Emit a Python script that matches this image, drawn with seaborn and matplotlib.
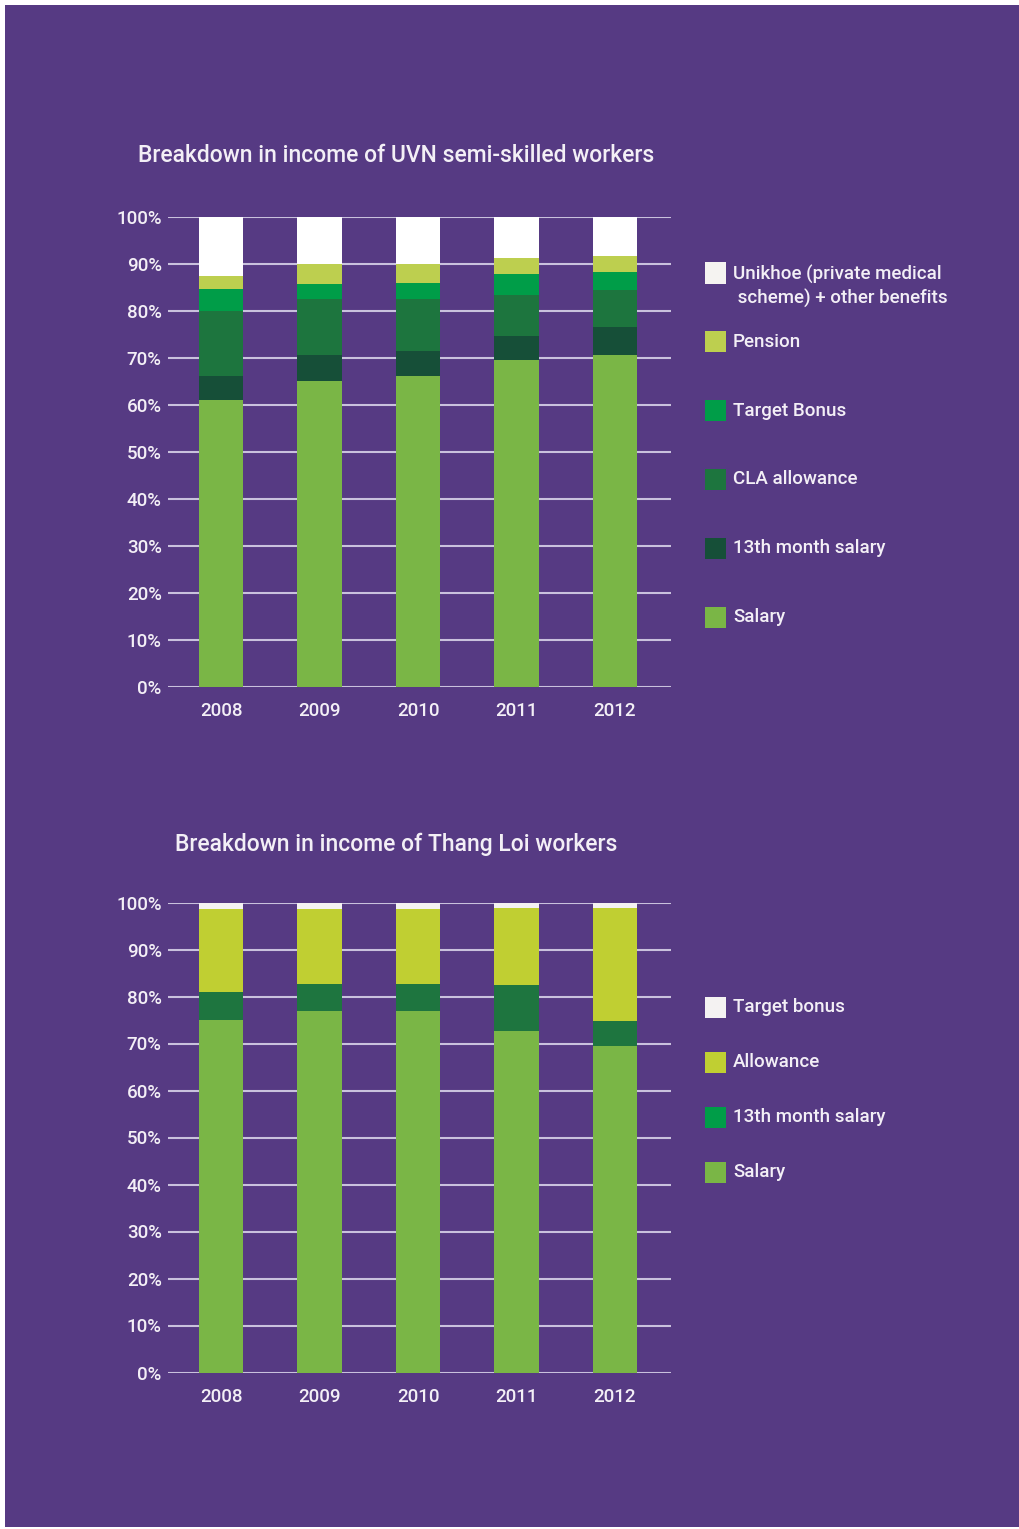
"""
Income breakdown of UVN semi-skilled workers and Thang Loi workers, 2008-2012
Stacked 100% bars drawn with seaborn on a purple page
"""

import numpy as np
import pandas as pd
import matplotlib.pyplot as plt
from matplotlib.patches import Rectangle
import seaborn as sns

sns.set_style("white")
plt.rcParams['font.family'] = ['Roboto', 'DejaVu Sans']
plt.rcParams['font.weight'] = 'medium'

BG = '#563A83'
TXT = '#F3EFF6'
GRID = '#C9C1DD'

years = ['2008', '2009', '2010', '2011', '2012']

# UVN semi-skilled workers (% of income)
uvn_labels = ['Salary', '13th month salary', 'CLA allowance', 'Target Bonus',
              'Pension', 'Unikhoe (private medical\n scheme) + other benefits']
uvn_salary = [61.0, 65.2, 66.1, 69.5, 70.6]
uvn_13th = [5.1, 5.4, 5.3, 5.1, 5.9]
uvn_cla = [13.8, 11.9, 11.1, 8.9, 7.9]
uvn_target = [4.7, 3.2, 3.4, 4.3, 3.8]
uvn_pension = [2.8, 4.2, 4.0, 3.4, 3.6]
uvn_unikhoe = [12.6, 10.1, 10.1, 8.8, 8.2]
uvn_colors = ['#7AB646', '#164F38', '#1D753E', '#009D48', '#BDCF4F', '#FFFFFF']
uvn_legend_colors = ['#7AB646', '#164F38', '#1D753E', '#009D48', '#BDCF4F', '#F5F3F1']

# Thang Loi workers (% of income)
tl_labels = ['Salary', '13th month salary', 'Allowance', 'Target bonus']
tl_salary = [75.0, 77.0, 77.0, 72.7, 69.5]
tl_13th = [6.0, 5.7, 5.7, 9.8, 5.3]
tl_allowance = [17.7, 16.0, 16.0, 16.4, 24.1]
tl_target = [1.3, 1.3, 1.3, 1.1, 1.1]
tl_colors = ['#7AB646', '#1E753F', '#C0CF32', '#F4F2F2']
tl_legend_colors = ['#7AB646', '#009D48', '#C0CF32', '#F4F2F2']

W, H = 1020, 1529


def stacked(ax, series, colors):
    """Overlay cumulative bars, tallest first, so they read as a stack"""
    cum = np.cumsum(np.array(series), axis=0)
    for level in range(len(series) - 1, -1, -1):
        df = pd.DataFrame({'year': years, 'value': cum[level]})
        sns.barplot(data=df, x='year', y='value', color=colors[level],
                    saturation=1, width=0.45, linewidth=0, ax=ax, zorder=3)
    ax.set_xlim(-0.54, 4.57)
    ax.set_ylim(0, 100)
    ax.set_yticks(range(0, 101, 10))
    ax.set_yticklabels([f'{v}%' for v in range(0, 101, 10)])
    ax.set_facecolor(BG)
    ax.grid(axis='y', color=GRID, linewidth=1.5, zorder=1)
    ax.set_axisbelow(True)
    for s in ax.spines.values():
        s.set_visible(False)
    ax.set_xlabel('')
    ax.set_ylabel('')
    ax.tick_params(axis='y', length=0, pad=4.5, labelsize=13.5, labelcolor=TXT)
    ax.tick_params(axis='x', length=0, pad=11, labelsize=13.5, labelcolor=TXT)


def legend(fig, labels, colors, y_first, step):
    for i, (lab, col) in enumerate(zip(labels, colors)):
        yc = y_first + i * step
        fig.add_artist(Rectangle((705 / W, 1 - (yc + 10.5) / H), 21 / W, 21 / H,
                                 transform=fig.transFigure, facecolor=col,
                                 edgecolor='none'))
        if '\n' in lab:
            fig.text(733 / W, 1 - (yc - 8) / H, lab, color=TXT, fontsize=13.5,
                     ha='left', va='top', linespacing=1.35)
        else:
            fig.text(733 / W, 1 - yc / H, lab, color=TXT, fontsize=13.5,
                     ha='left', va='center')


fig = plt.figure(figsize=(W / 100, H / 100), dpi=100)
fig.patch.set_facecolor('white')
fig.add_artist(Rectangle((5 / W, 2 / H), 1 - 5 / W, 1 - 7 / H,
                         transform=fig.transFigure, facecolor=BG,
                         edgecolor='none', zorder=0))

ax1 = fig.add_axes([168 / W, 1 - 687 / H, 503 / W, 470 / H])
stacked(ax1, [uvn_salary, uvn_13th, uvn_cla, uvn_target, uvn_pension, uvn_unikhoe],
        uvn_colors)
fig.text(396 / W, 1 - 156 / H, 'Breakdown in income of UVN semi-skilled workers',
         color=TXT, fontsize=16.5, ha='center', va='center')

ax2 = fig.add_axes([168 / W, 1 - 1372.5 / H, 503 / W, 470 / H])
stacked(ax2, [tl_salary, tl_13th, tl_allowance, tl_target], tl_colors)
fig.text(396 / W, 1 - 844 / H, 'Breakdown in income of Thang Loi workers',
         color=TXT, fontsize=16.5, ha='center', va='center')

# legends, listed top to bottom
legend(fig, uvn_labels[::-1], uvn_legend_colors[::-1], 273, 68.8)
legend(fig, tl_labels[::-1], tl_legend_colors[::-1], 1007, 55)

fig.savefig('out.png', dpi=100, facecolor=fig.get_facecolor())
